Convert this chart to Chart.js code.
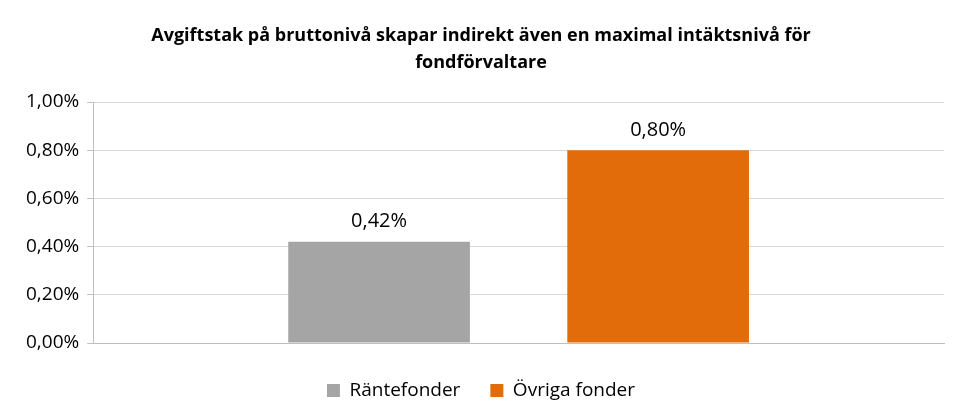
<!DOCTYPE html><html><head><meta charset="utf-8">
<script src="https://cdn.jsdelivr.net/npm/chart.js@4"></script>
<style>body{margin:0;background:#fff}#w{width:964px;height:410px}</style></head><body><div id="w"><canvas id="c"></canvas></div>
<script>
const categories=[''];
const seriesNames=['Räntefonder','Övriga fonder'];
const values=[[0.42],[0.80]];
const colors=['#a5a5a5','#e36c0a'];
const titleLines=['Avgiftstak på bruttonivå skapar indirekt även en maximal intäktsnivå för','fondförvaltare'];
const fmt=v=>v.toFixed(2).replace('.',',')+'%';
const labelPlugin={id:'lbl',afterDatasetsDraw(ch){const c=ch.ctx;c.save();c.font='20px "Open Sans", sans-serif';c.fillStyle='#000';c.textAlign='center';c.textBaseline='bottom';
ch.data.datasets.forEach((d,i)=>{ch.getDatasetMeta(i).data.forEach((b,j)=>{c.fillText(fmt(d.data[j]),b.x,b.y-10);});});c.restore();}};
new Chart(document.getElementById('c'),{type:'bar',
data:{labels:categories,datasets:seriesNames.map((n,i)=>({label:n,data:values[i],backgroundColor:colors[i],barPercentage:0.651,categoryPercentage:0.656}))},
options:{responsive:true,maintainAspectRatio:false,animation:false,
layout:{padding:{left:18,right:20,top:8,bottom:0}},
plugins:{title:{display:true,text:titleLines,font:{family:'"Open Sans", sans-serif',size:18,weight:'bold',lineHeight:1.5},color:'#000',padding:{top:14,bottom:26}},
legend:{position:'bottom',labels:{font:{family:'"Open Sans", sans-serif',size:19},color:'#000',boxWidth:13,boxHeight:13,padding:30}},tooltip:{enabled:false}},
scales:{x:{grid:{display:false},border:{color:'#bfbfbf'},ticks:{display:false}},
y:{min:0,max:1,ticks:{stepSize:0.2,callback:v=>fmt(v),font:{family:'"Open Sans", sans-serif',size:19},color:'#000',padding:8},grid:{color:'#d9d9d9',drawTicks:true,tickLength:6,tickColor:'#bfbfbf'},border:{color:'#bfbfbf'}}}},
plugins:[labelPlugin]});
</script></body></html>
